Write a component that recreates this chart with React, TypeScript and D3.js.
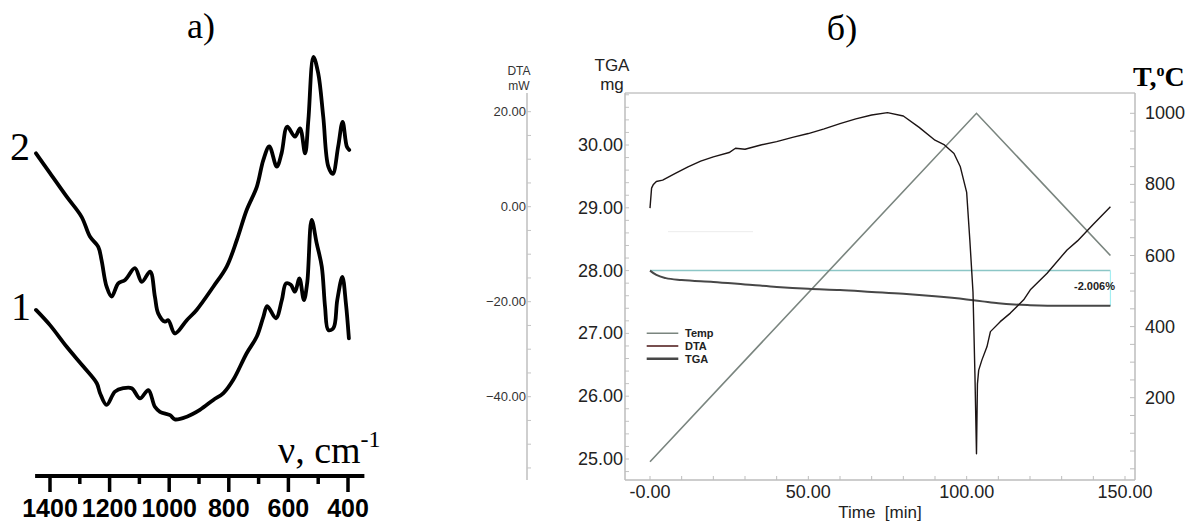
import * as d3 from "d3";

const W = 1204;
const H = 524;

// panel a) IR spectra: [wavenumber cm-1, transmittance a.u.]
const spectrum2: [number, number][] = [
  [1447, 72.8], [1400, 67.6], [1344, 61.4], [1294, 56.1], [1266, 50.9], [1238, 48.2],
  [1227, 44.7], [1210, 37.7], [1193, 35.1], [1171, 38.6], [1148, 39.5], [1115, 42.6],
  [1092, 39.0], [1064, 41.7], [1048, 35.1], [1037, 30.7], [1014, 28.5], [1003, 28.9],
  [981, 25.4], [941, 28.9], [908, 31.6], [852, 37.7], [807, 43.0], [773, 50.0],
  [740, 57.9], [706, 64.0], [684, 71.1], [664, 74.6], [639, 69.3], [623, 72.8],
  [604, 79.8], [578, 77.2], [561, 79.4], [544, 72.8], [533, 81.6], [516, 98.2],
  [500, 93.9], [483, 82.4], [466, 69.3], [451, 67.4], [433, 74.6], [418, 81.1],
  [404, 74.6], [396, 73.7],
];
const spectrum1: [number, number][] = [
  [1447, 31.6], [1400, 27.6], [1344, 21.9], [1288, 16.7], [1243, 12.3], [1232, 9.7],
  [1210, 6.6], [1182, 10.1], [1154, 11.0], [1126, 11.0], [1098, 8.3], [1070, 10.5],
  [1048, 6.1], [1031, 4.8], [997, 3.9], [981, 2.8], [941, 3.5], [897, 5.3],
  [852, 7.9], [818, 9.7], [785, 13.2], [740, 20.2], [706, 24.6], [684, 29.8],
  [671, 32.6], [642, 29.4], [622, 34.2], [608, 38.6], [592, 38.2], [578, 36.4],
  [563, 39.9], [548, 34.2], [537, 38.6], [522, 55.3], [505, 49.1], [488, 43.0],
  [477, 32.4], [466, 26.3], [449, 26.8], [436, 34.2], [419, 40.3], [407, 33.3],
  [397, 24.1],
];
const nuMajor = [1400, 1200, 1000, 800, 600, 400];
const nuMinor = [1300, 1100, 900, 700, 500];

// panel б) thermal analysis: [time min, value]
const tempCurve: [number, number][] = [[0, 20], [103.1, 1000], [145.4, 600]];
const dtaCurve: [number, number][] = [
  [0, -0.3], [0.5, 3.9], [1, 4.6], [2, 5.3], [4, 5.6], [8, 7.0], [12, 8.4], [16, 9.6],
  [20, 10.5], [25, 11.4], [27, 12.3], [30, 12.1], [35, 13.0], [40, 13.7], [45, 14.6],
  [50, 15.4], [55, 16.4], [60, 17.5], [65, 18.5], [70, 19.3], [75, 19.8], [80, 19.1],
  [85, 16.7], [90, 14.0], [93, 13.0], [96, 11.2], [98, 8.4], [100, 3.0], [101, -7.0],
  [102, -18.0], [102.6, -35.0], [103.1, -52.0], [103.4, -37.3], [103.8, -34.4],
  [104.8, -32.3], [106.4, -29.5], [107.5, -26.3], [110.6, -24.2], [113.8, -22.4],
  [118, -19.6], [120.1, -17.5], [125.4, -14.0], [131.7, -9.1], [135, -7.2],
  [140, -3.7], [145.4, 0],
];
const tgaCurve: [number, number][] = [
  [0, 28.0], [2, 27.93], [5, 27.88], [10, 27.85], [20, 27.82], [30, 27.78], [40, 27.74],
  [50, 27.71], [60, 27.69], [70, 27.66], [80, 27.63], [90, 27.59], [100, 27.54],
  [105, 27.51], [110, 27.48], [115, 27.46], [120, 27.45], [130, 27.44], [145.4, 27.44],
];
const timeLabels = [0, 50, 100, 150];
const tgaLabels = [25, 26, 27, 28, 29, 30];
const dtaLabels = [20, 0, -20, -40];
const tempLabels = [200, 400, 600, 800, 1000];
const legendItems = ["Temp", "DTA", "TGA"];
const massLoss = "-2.006%";

const SANS = "'Liberation Sans', Arial, sans-serif";
const SERIF = "'Liberation Serif', 'Times New Roman', serif";

export default function App() {
  // panel a)
  const xNu = d3.scaleLinear().domain([1400, 400]).range([50, 348]);
  const yTr = d3.scaleLinear().domain([0, 100]).range([430, 50]);
  const irLine = d3
    .line<[number, number]>()
    .x((d) => xNu(d[0]))
    .y((d) => yTr(d[1]))
    .curve(d3.curveCatmullRom.alpha(0.5));
  const axisY = 476;

  // panel б)
  const top = 93;
  const bottom = 480;
  const x = d3.scaleLinear().domain([0, 150]).range([650, 1125]);
  const yTga = d3.scaleLinear().domain([25, 30]).range([459, 145]);
  const yDta = d3.scaleLinear().domain([-40, 20]).range([396.7, 111.7]);
  const yTemp = d3.scaleLinear().domain([200, 1000]).range([397.7, 113.3]);
  const left = 625;
  const right = 1135;
  const dtaAxisX = 527;

  const tempLine = d3.line<[number, number]>().x((d) => x(d[0])).y((d) => yTemp(d[1]));
  const dtaLine = d3.line<[number, number]>().x((d) => x(d[0])).y((d) => yDta(d[1]));
  const tgaLine = d3
    .line<[number, number]>()
    .x((d) => x(d[0]))
    .y((d) => yTga(d[1]))
    .curve(d3.curveMonotoneX);

  const f2 = d3.format(".2f");
  const tgaTicks = d3.range(24.8, 30.81, 0.2);
  const dtaTicks = d3.range(-55, 21, 5);
  const timeTicks = d3.range(0, 151, 10);
  const tempTicks = d3.range(0, 1001, 50);
  const tgaEnd = tgaCurve[tgaCurve.length - 1];
  const tga0 = tgaCurve[0][1];
  const legendColors = ["#7a857f", "#4a1414", "#474747"];
  const legendWidths = [1.5, 1.5, 2.5];

  return (
    <div style={{ position: "fixed", left: 0, top: 0, width: W, height: H, background: "#fff" }}>
      <svg width={W} height={H} style={{ display: "block" }}>
        {/* ---------- a) ---------- */}
        <text x={201} y={38} fontFamily={SERIF} fontSize={36} textAnchor="middle">а)</text>
        <text x={20} y={160} fontFamily={SERIF} fontSize={40} textAnchor="middle">2</text>
        <text x={21} y={320} fontFamily={SERIF} fontSize={40} textAnchor="middle">1</text>
        <path d={irLine(spectrum2) ?? ""} fill="none" stroke="#000" strokeWidth={3.8} strokeLinejoin="round" strokeLinecap="round" />
        <path d={irLine(spectrum1) ?? ""} fill="none" stroke="#000" strokeWidth={3.8} strokeLinejoin="round" strokeLinecap="round" />
        <line x1={xNu(1450)} x2={xNu(345)} y1={axisY} y2={axisY} stroke="#000" strokeWidth={4} />
        {nuMajor.map((v) => (
          <g key={"M" + v}>
            <line x1={xNu(v)} x2={xNu(v)} y1={axisY} y2={axisY + 16} stroke="#000" strokeWidth={3.5} />
            <text x={xNu(v)} y={517} fontFamily={SANS} fontWeight="bold" fontSize={25} textAnchor="middle">{v}</text>
          </g>
        ))}
        {nuMinor.map((v) => (
          <line key={"m" + v} x1={xNu(v)} x2={xNu(v)} y1={axisY} y2={axisY + 8} stroke="#000" strokeWidth={3.5} />
        ))}
        <text x={278} y={463} fontFamily={SERIF} fontSize={38}>
          ν, cm<tspan dy={-16} fontSize={24}>-1</tspan>
        </text>

        {/* ---------- б) ---------- */}
        <text x={842} y={40} fontFamily={SERIF} fontSize={36} textAnchor="middle">б)</text>

        {/* DTA axis */}
        <text x={519} y={75} fontFamily={SANS} fontSize={12} textAnchor="middle" fill="#333">DTA</text>
        <text x={519} y={90} fontFamily={SANS} fontSize={12} textAnchor="middle" fill="#333">mW</text>
        <line x1={dtaAxisX} x2={dtaAxisX} y1={top} y2={bottom} stroke="#cfcfcf" strokeWidth={2} />
        {dtaTicks.map((v) => (
          <line key={"dt" + v} x1={dtaAxisX} x2={dtaAxisX + 4} y1={yDta(v)} y2={yDta(v)} stroke="#c4c4c4" strokeWidth={1} />
        ))}
        {dtaLabels.map((v) => (
          <text key={"dl" + v} x={dtaAxisX - 1} y={yDta(v) + 4.5} fontFamily={SANS} fontSize={13} textAnchor="end" fill="#333">{f2(v)}</text>
        ))}

        {/* TGA axis */}
        <text x={612} y={71} fontFamily={SANS} fontSize={17} textAnchor="middle" fill="#222">TGA</text>
        <text x={612} y={90} fontFamily={SANS} fontSize={17} textAnchor="middle" fill="#222">mg</text>
        {tgaTicks.map((v) => (
          <line key={"gt" + v.toFixed(1)} x1={left} x2={left + 4} y1={yTga(v)} y2={yTga(v)} stroke="#c4c4c4" strokeWidth={1} />
        ))}
        {tgaLabels.map((v) => (
          <text key={"gl" + v} x={left - 2} y={yTga(v) + 6} fontFamily={SANS} fontSize={18} textAnchor="end" fill="#222">{f2(v)}</text>
        ))}

        {/* frame */}
        <line x1={left} x2={right} y1={top} y2={top} stroke="#a8a8a8" strokeWidth={1} />
        <line x1={left} x2={left} y1={top} y2={bottom} stroke="#bdbdbd" strokeWidth={1.5} />
        <line x1={right} x2={right} y1={top} y2={bottom} stroke="#bdbdbd" strokeWidth={1.5} />
        <line x1={left} x2={right} y1={bottom} y2={bottom} stroke="#bdbdbd" strokeWidth={1.5} />

        {/* time axis */}
        {timeTicks.map((v) => (
          <line key={"tt" + v} x1={x(v)} x2={x(v)} y1={bottom} y2={bottom - 4} stroke="#bdbdbd" strokeWidth={1} />
        ))}
        {timeLabels.map((v) => (
          <text key={"tl" + v} x={x(v)} y={498} fontFamily={SANS} fontSize={18} textAnchor="middle" fill="#222">
            {v === 0 ? "-0.00" : f2(v)}
          </text>
        ))}
        <text x={880} y={518} fontFamily={SANS} fontSize={17} textAnchor="middle" fill="#222" xmlSpace="preserve">Time  [min]</text>

        {/* temperature axis */}
        {tempTicks.map((v) => (
          <line key={"Tt" + v} x1={right} x2={right - 5} y1={yTemp(v)} y2={yTemp(v)} stroke="#bdbdbd" strokeWidth={1} />
        ))}
        {tempLabels.map((v) => (
          <text key={"Tl" + v} x={1145} y={yTemp(v) + 6} fontFamily={SANS} fontSize={18} fill="#222">{v}</text>
        ))}
        <text x={1133} y={86} fontFamily={SERIF} fontSize={28} fontWeight="bold">
          T,<tspan dy={-10} fontSize={16}>o</tspan><tspan dy={10}>C</tspan>
        </text>

        {/* faint artefact line */}
        <line x1={668} x2={753} y1={231.7} y2={231.7} stroke="#ececec" strokeWidth={1} />

        {/* mass-loss reference */}
        <line x1={x(0)} x2={x(tgaEnd[0])} y1={yTga(tga0)} y2={yTga(tga0)} stroke="#8cc6c6" strokeWidth={1.5} />
        <line x1={x(tgaEnd[0])} x2={x(tgaEnd[0])} y1={yTga(tga0)} y2={yTga(tgaEnd[1])} stroke="#a4eef2" strokeWidth={1.2} />
        <text x={1115} y={290} fontFamily={SANS} fontSize={11} fontWeight="bold" textAnchor="end" fill="#222">{massLoss}</text>

        {/* curves */}
        <path d={tempLine(tempCurve) ?? ""} fill="none" stroke="#7a857f" strokeWidth={1.6} />
        <path d={tgaLine(tgaCurve) ?? ""} fill="none" stroke="#474747" strokeWidth={2} />
        <path d={dtaLine(dtaCurve) ?? ""} fill="none" stroke="#1c1414" strokeWidth={1.4} strokeLinejoin="round" />

        {/* legend */}
        {legendItems.map((name, i) => {
          const ly = 333.3 + i * 12.7;
          return (
            <g key={name}>
              <line x1={646.7} x2={678.3} y1={ly} y2={ly} stroke={legendColors[i]} strokeWidth={legendWidths[i]} />
              <text x={685} y={ly + 4} fontFamily={SANS} fontSize={11} fontWeight="bold" fill="#222">{name}</text>
            </g>
          );
        })}
      </svg>
    </div>
  );
}
